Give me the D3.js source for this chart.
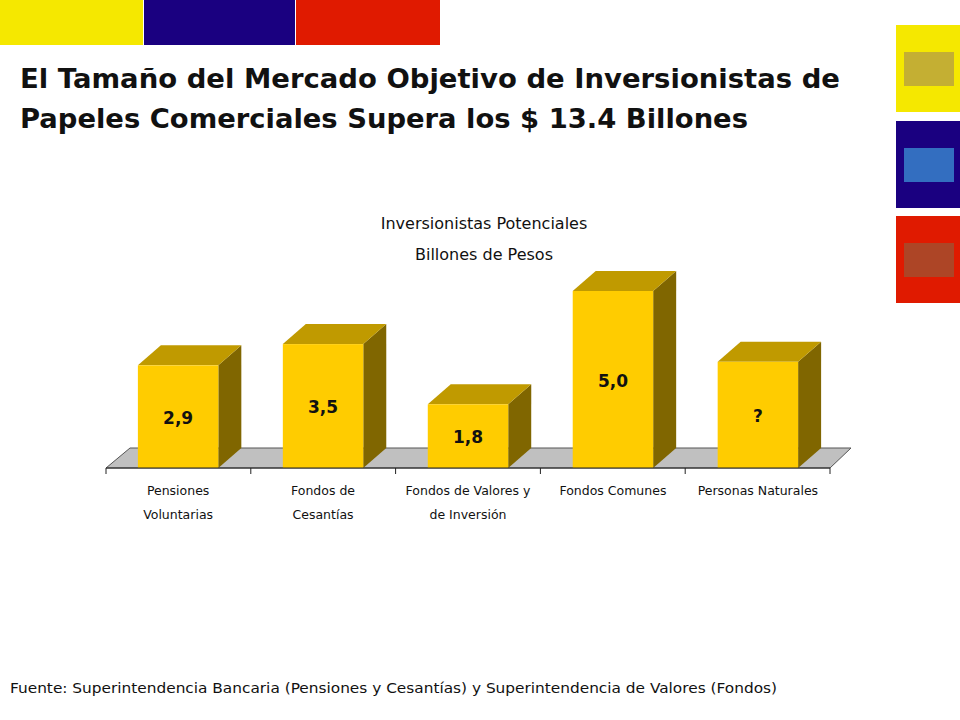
<!DOCTYPE html>
<html><head><meta charset="utf-8">
<script src="https://cdn.jsdelivr.net/npm/d3@7"></script>
<style>body{margin:0;background:#fff}svg{display:block}</style>
</head><body><svg id="c" width="960" height="720"></svg>
<script>
const categories = [["Pensiones","Voluntarias"],["Fondos de","Cesantías"],["Fondos de Valores y","de Inversión"],["Fondos Comunes"],["Personas Naturales"]];
const values = [2.9, 3.5, 1.8, 5.0, 3.0];
const labels = ["2,9","3,5","1,8","5,0","?"];

const svg = d3.select("#c");
const font = "DejaVu Sans, Verdana, sans-serif";

// top colour strips
[["#f5e800",0,143],["#1a0080",144,151],["#e01a00",296,144]].forEach(([c,x,w]) =>
  svg.append("rect").attr("x",x).attr("y",0).attr("width",w).attr("height",45).attr("fill",c));
// right icons
[["#f5e800","#b8a040",25],["#1a0080","#3a8ad0",121],["#e01a00","#a05030",216]].forEach(([c,c2,y]) => {
  svg.append("rect").attr("x",896).attr("y",y).attr("width",64).attr("height",87).attr("fill",c);
  svg.append("rect").attr("x",904).attr("y",y+27).attr("width",50).attr("height",34).attr("fill",c2).attr("opacity",0.8);
});

const title = ["El Tamaño del Mercado Objetivo de Inversionistas de","Papeles Comerciales Supera los $ 13.4 Billones"];
const tl = [820, 728];
title.forEach((t,i) => svg.append("text").attr("x",20).attr("y",88+i*40).text(t)
  .attr("font-family",font).attr("font-weight","bold").attr("font-size",27).attr("fill","#111")
  .attr("textLength",tl[i]).attr("lengthAdjust","spacingAndGlyphs"));

["Inversionistas Potenciales","Billones de Pesos"].forEach((t,i) =>
  svg.append("text").attr("x",484).attr("y",229+i*31).attr("text-anchor","middle").text(t)
    .attr("font-family",font).attr("font-size",16).attr("fill","#111"));

const x0 = 106, x1 = 830, base = 468, dx = 23, dy = -20;
const x = d3.scaleBand().domain(d3.range(values.length)).range([x0,x1]).paddingInner(0.445).paddingOuter(0.22);
const y = d3.scaleLinear().domain([0,5]).range([base,291]);

// floor
svg.append("path").attr("d",`M${x0},${base}L${x0+24},${base-20}L${x1+21},${base-20}L${x1},${base}Z`)
  .attr("fill","#c0c0c0").attr("stroke","#555").attr("stroke-width",1);

const g = svg.append("g");
values.forEach((v,i) => {
  const bx = x(i), bw = x.bandwidth(), ty = y(v);
  g.append("path").attr("d",`M${bx+bw},${base}L${bx+bw+dx},${base+dy}L${bx+bw+dx},${ty+dy}L${bx+bw},${ty}Z`).attr("fill","#806600");
  g.append("path").attr("d",`M${bx},${ty}L${bx+dx},${ty+dy}L${bx+bw+dx},${ty+dy}L${bx+bw},${ty}Z`).attr("fill","#c09a00");
  g.append("rect").attr("x",bx).attr("y",ty).attr("width",bw).attr("height",base-ty).attr("fill","#ffcc00");
  g.append("text").attr("x",bx+bw/2).attr("y",(ty+base)/2+7).attr("text-anchor","middle").text(labels[i])
    .attr("font-family",font).attr("font-weight","bold").attr("font-size",17).attr("fill","#111");
});

// axis
svg.append("line").attr("x1",x0).attr("x2",x1).attr("y1",base).attr("y2",base).attr("stroke","#222");
const step = (x1-x0)/values.length;
d3.range(values.length+1).forEach(k => svg.append("line").attr("x1",x0+k*step).attr("x2",x0+k*step)
  .attr("y1",base).attr("y2",base+6).attr("stroke","#222"));
categories.forEach((c,i) => c.forEach((t,j) =>
  svg.append("text").attr("x",x(i)+x.bandwidth()/2).attr("y",495+j*24).attr("text-anchor","middle").text(t)
    .attr("font-family",font).attr("font-size",12.5).attr("fill","#111")));

svg.append("text").attr("x",10).attr("y",693).text("Fuente: Superintendencia Bancaria (Pensiones y Cesantías) y Superintendencia de Valores (Fondos)")
  .attr("font-family",font).attr("font-size",13.5).attr("fill","#111").attr("textLength",767).attr("lengthAdjust","spacingAndGlyphs");
</script></body></html>
